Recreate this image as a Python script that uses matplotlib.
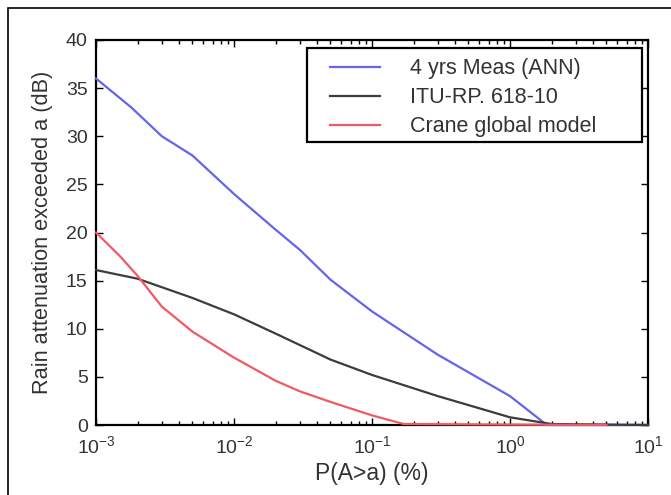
import matplotlib
matplotlib.use("Agg")
import matplotlib.pyplot as plt
from matplotlib.patches import Rectangle
from matplotlib.ticker import LogLocator, FixedLocator, NullFormatter

plt.rcParams['font.family'] = ['Liberation Sans', 'DejaVu Sans']
plt.rcParams['mathtext.default'] = 'regular'

# ---- data ----
meas_x = [0.001, 0.0018, 0.003, 0.005, 0.01, 0.02, 0.03, 0.05, 0.1, 0.3, 1.0, 1.85, 10.0]
meas_y = [36.0, 33.0, 30.0, 28.0, 24.0, 20.3, 18.2, 15.1, 11.8, 7.3, 3.0, 0.0, 0.0]

itu_x = [0.001, 0.002, 0.005, 0.01, 0.02, 0.05, 0.1, 0.3, 1.0, 2.0, 10.0]
itu_y = [16.1, 15.2, 13.2, 11.5, 9.5, 6.8, 5.2, 3.0, 0.8, 0.1, 0.0]

crane_x = [0.001, 0.0015, 0.002, 0.003, 0.005, 0.01, 0.02, 0.03, 0.05, 0.1, 0.17, 5.0]
crane_y = [20.0, 17.5, 15.5, 12.3, 9.7, 7.0, 4.6, 3.5, 2.4, 1.0, 0.1, 0.0]

labels = ["4 yrs Meas (ANN)", "ITU-RP. 618-10", "Crane global model"]
colors = ["#6464ec", "#3c3c3c", "#f05a64"]

yticks = [0, 5, 10, 15, 20, 25, 30, 35, 40]
xticks = [1e-3, 1e-2, 1e-1, 1e0, 1e1]
xticklabels = ["$10^{-3}$", "$10^{-2}$", "$10^{-1}$", "$10^{0}$", "$10^{1}$"]

W, H = 671, 495
fig = plt.figure(figsize=(W / 100, H / 100), dpi=100)
fig.patch.set_facecolor("white")

# outer frame of the picture
fig.patches.append(Rectangle((8 / W, -0.2), 1.5, 1.2 - 8 / H, transform=fig.transFigure,
                             fill=False, edgecolor="black", linewidth=1.2))

ax = fig.add_axes([96 / W, 1 - 425 / H, (648 - 96) / W, (425 - 40) / H])

series = [(meas_x, meas_y), (itu_x, itu_y), (crane_x, crane_y)]
for (xs, ys), lab, col in zip(series, labels, colors):
    ax.plot(xs, ys, color=col, linewidth=1.6, label=lab, zorder=3, clip_on=False)

ax.set_xscale("log")
ax.set_xlim(1e-3, 1e1)
ax.set_ylim(0, 40)
ax.xaxis.set_major_locator(FixedLocator(xticks))
ax.set_xticklabels(xticklabels)
ax.xaxis.set_minor_locator(LogLocator(base=10, subs=range(2, 10), numticks=20))
ax.xaxis.set_minor_formatter(NullFormatter())
ax.set_yticks(yticks)
ax.set_yticklabels([str(v) for v in yticks])

ax.tick_params(which="both", direction="in", top=True, right=True, width=1.0, colors="black",
               labelsize=14, labelcolor="#333333")
ax.tick_params(which="major", length=5, pad=6)
ax.tick_params(axis="x", which="major", pad=7)
ax.tick_params(which="minor", length=3)
for s in ax.spines.values():
    s.set_linewidth(1.6)
    s.set_zorder(2.5)

ax.set_xlabel("P(A>a) (%)", fontsize=16.5, color="#333333", labelpad=4)
ax.set_ylabel("Rain attenuation exceeded a (dB)", fontsize=15.7, color="#333333", labelpad=9)

# legend box drawn at its place in the reference
ax.add_patch(Rectangle((0.382, 0.735), 0.607, 0.244, transform=ax.transAxes, fill=True,
                       facecolor="white", edgecolor="black", linewidth=1.6, zorder=4))
leg = ax.legend(loc="upper left", bbox_to_anchor=(0.424, 0.953), fontsize=15.5,
                frameon=False, handlelength=2.33, handletextpad=1.4, labelspacing=0.38,
                borderpad=0, borderaxespad=0)
leg.set_zorder(5)
for t in leg.get_texts():
    t.set_color("#333333")

fig.savefig("out.png", dpi=100, facecolor="white")
